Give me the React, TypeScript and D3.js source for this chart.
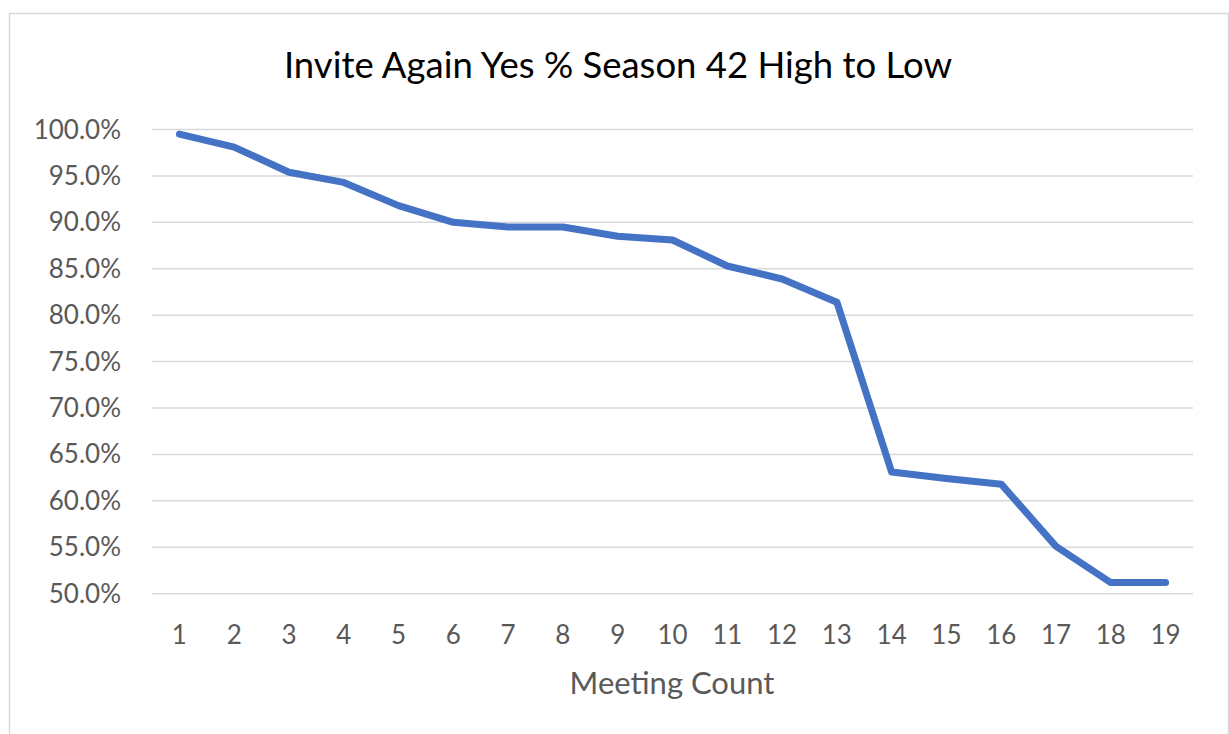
import { useRef, useEffect } from 'react';
import * as d3 from 'd3';

const meetings = ['1', '2', '3', '4', '5', '6', '7', '8', '9', '10', '11', '12', '13', '14', '15', '16', '17', '18', '19'];
const yesPct = [99.5, 98.1, 95.4, 94.3, 91.8, 90.0, 89.5, 89.5, 88.5, 88.1, 85.3, 83.9, 81.4, 63.1, 62.4, 61.8, 55.1, 51.2, 51.2];
const yTicks = [50, 55, 60, 65, 70, 75, 80, 85, 90, 95, 100];

const W = 1229;
const H = 734;
const font = 'Lato, "Open Sans", sans-serif';

export default function App() {
  const svgRef = useRef<SVGSVGElement>(null);

  useEffect(() => {
    const svg = d3.select(svgRef.current);
    svg.selectAll('*').remove();

    const left = 152, right = 1193, top = 129.5, bottom = 593.7;

    const x = d3.scaleBand().domain(meetings).range([left, right]);
    const y = d3.scaleLinear().domain([50, 100]).range([bottom, top]);

    // chart frame
    svg.append('rect')
      .attr('x', 9.5).attr('y', 13.5)
      .attr('width', W - 10).attr('height', H)
      .attr('fill', '#fff').attr('stroke', '#d9d9d9').attr('stroke-width', 1.5);

    svg.append('text')
      .text('Invite Again Yes % Season 42 High to Low')
      .attr('x', 618).attr('y', 78)
      .attr('text-anchor', 'middle')
      .attr('font-family', font).attr('font-size', 36.5)
      .attr('fill', '#000');

    // gridlines
    svg.append('g')
      .selectAll('line')
      .data(yTicks)
      .join('line')
      .attr('x1', left).attr('x2', right)
      .attr('y1', (d) => y(d)).attr('y2', (d) => y(d))
      .attr('stroke', '#d9d9d9').attr('stroke-width', 1.5);

    svg.append('g')
      .selectAll('text')
      .data(yTicks)
      .join('text')
      .text((d) => d.toFixed(1) + '%')
      .attr('x', 121).attr('y', (d) => y(d) + 9)
      .attr('text-anchor', 'end')
      .attr('font-family', font).attr('font-size', 26)
      .attr('fill', '#595959');

    svg.append('g')
      .selectAll('text')
      .data(meetings)
      .join('text')
      .text((d) => d)
      .attr('x', (d) => x(d)! + x.bandwidth() / 2)
      .attr('y', 644)
      .attr('text-anchor', 'middle')
      .attr('font-family', font).attr('font-size', 26)
      .attr('fill', '#595959');

    svg.append('text')
      .text('Meeting Count')
      .attr('x', 672).attr('y', 694)
      .attr('text-anchor', 'middle')
      .attr('font-family', font).attr('font-size', 31)
      .attr('fill', '#595959');

    const line = d3.line<number>()
      .x((_, i) => x(meetings[i])! + x.bandwidth() / 2)
      .y((d) => y(d));

    svg.append('path')
      .datum(yesPct)
      .attr('d', line)
      .attr('fill', 'none')
      .attr('stroke', '#4472c4')
      .attr('stroke-width', 7)
      .attr('stroke-linecap', 'round')
      .attr('stroke-linejoin', 'round');
  }, []);

  return (
    <svg
      ref={svgRef}
      width={W}
      height={H}
      style={{ position: 'absolute', left: 0, top: 0, background: '#fff' }}
    />
  );
}
